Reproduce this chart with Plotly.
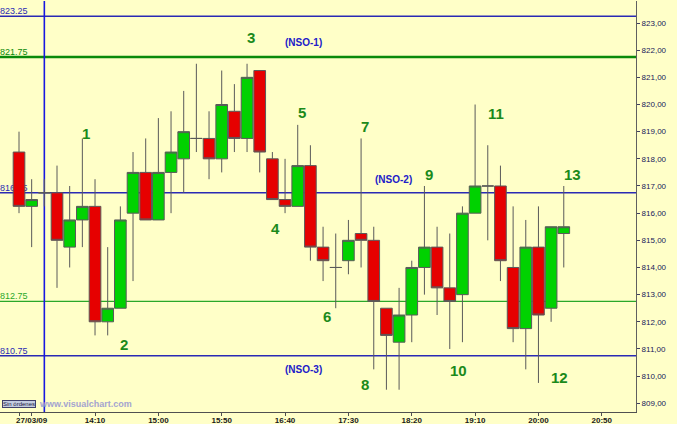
import plotly.graph_objects as go

DAY = "2009-03-27"
times = ["13:10", "13:20", "13:30", "13:40", "13:50", "14:00", "14:10", "14:20", "14:30", "14:40",
         "14:50", "15:00", "15:10", "15:20", "15:30", "15:40", "15:50", "16:00", "16:10", "16:20",
         "16:30", "16:40", "16:50", "17:00", "17:10", "17:20", "17:30", "17:40", "17:50", "18:00",
         "18:10", "18:20", "18:30", "18:40", "18:50", "19:00", "19:10", "19:20", "19:30", "19:40",
         "19:50", "20:00", "20:10", "20:20"]
opens = [818.25, 816.25, 816.75, 816.75, 814.75, 815.75, 816.25, 812.00, 812.50, 816.00,
         817.50, 815.75, 817.50, 818.00, 818.75, 818.75, 818.00, 819.75, 818.75, 821.25,
         818.00, 816.50, 816.25, 817.75, 814.75, 814.00, 814.25, 815.25, 815.00, 812.50,
         811.25, 812.25, 814.00, 814.75, 813.25, 813.00, 816.00, 817.00, 817.00, 814.00,
         811.75, 814.75, 812.50, 815.25]
highs = [819.00, 817.25, 817.25, 817.75, 817.00, 818.75, 817.25, 814.75, 816.25, 818.25,
         818.75, 819.50, 819.75, 820.50, 821.50, 819.75, 821.25, 820.75, 821.50, 821.25,
         818.25, 818.00, 819.25, 818.50, 815.50, 815.25, 815.75, 818.75, 815.50, 812.50,
         813.25, 814.25, 817.00, 815.50, 815.25, 816.25, 820.00, 818.50, 817.75, 816.25,
         815.75, 816.25, 815.50, 817.00]
lows = [816.00, 814.75, 816.25, 813.25, 814.00, 814.75, 811.50, 811.50, 812.50, 813.50,
        815.75, 815.75, 816.00, 816.75, 818.25, 817.25, 817.50, 818.25, 818.25, 817.50,
        816.50, 816.00, 816.25, 814.25, 813.50, 812.50, 813.75, 814.00, 810.25, 809.50,
        809.50, 811.25, 813.00, 812.25, 811.00, 811.25, 816.00, 815.00, 813.50, 811.25,
        810.25, 809.75, 812.00, 814.00]
closes = [816.25, 816.50, 816.75, 815.00, 815.75, 816.25, 812.00, 812.50, 815.75, 817.50,
          815.75, 817.50, 818.25, 819.00, 818.75, 818.00, 820.00, 818.75, 821.00, 818.25,
          816.50, 816.25, 817.75, 814.75, 814.25, 814.00, 815.00, 815.00, 812.75, 811.50,
          812.25, 814.00, 814.75, 813.25, 812.75, 816.00, 817.00, 817.00, 814.25, 811.75,
          814.75, 812.25, 815.50, 815.50]

# reference levels
levels = [823.25, 821.75, 816.75, 812.75, 810.75]
level_labels = ["823.25", "821.75", "816.75", "812.75", "810.75"]
level_colors = ["#2a2ab4", "#0a8a0a", "#2a2ab4", "#2aa82a", "#2a2ab4"]
level_widths = [1.4, 2.6, 1.4, 1.3, 1.6]
vline_time = "13:30"

wave_labels = ["1", "2", "3", "4", "5", "6", "7", "8", "9", "10", "11", "12", "13"]
wave_times = ["14:02:36", "14:33:06", "16:12:54", "16:32:48", "16:53:06", "17:12:54", "17:43:06",
              "17:43:18", "18:33:24", "18:56:30", "19:26:42", "20:16:48", "20:27:00"]
wave_prices = [818.94, 811.18, 822.45, 815.44, 819.69, 812.19, 819.20, 809.71, 817.44, 810.20,
               819.67, 809.96, 817.44]

nso_labels = ["(NSO-1)", "(NSO-2)", "(NSO-3)"]
nso_times = ["16:54:54", "18:05:12", "16:54:54"]
nso_prices = [822.27, 817.25, 810.26]

tick_times = ["13:10", "13:20", "14:10", "15:00", "15:50", "16:40", "17:30", "18:20", "19:10", "20:00", "20:50"]
tick_text = ["", "27/03/09", "14:10", "15:00", "15:50", "16:40", "17:30", "18:20", "19:10", "20:00", "20:50"]
y_ticks = list(range(809, 824))

BG = "#FFFFC8"
FONT = "Arial, Liberation Sans, sans-serif"

def ts(t):
    return f"{DAY} {t}"

fig = go.Figure()
fig.add_trace(go.Candlestick(
    x=[ts(t) for t in times], open=opens, high=highs, low=lows, close=closes,
    increasing=dict(fillcolor="#00d200", line=dict(color="#5a5a5a", width=1)),
    decreasing=dict(fillcolor="#e60000", line=dict(color="#5a5a5a", width=1)),
    whiskerwidth=0, showlegend=False, hoverinfo="skip",
))

shapes = []
for v, lab, c, w in zip(levels, level_labels, level_colors, level_widths):
    shapes.append(dict(
        type="line", xref="paper", x0=0, x1=1, yref="y", y0=v, y1=v,
        line=dict(color=c, width=w), layer="below",
        label=dict(text=lab, textposition="start", xanchor="left", yanchor="bottom",
                   padding=1, font=dict(family=FONT, size=9, color=c)),
    ))
shapes.append(dict(type="line", xref="x", x0=ts(vline_time), x1=ts(vline_time),
                   yref="paper", y0=0, y1=1, line=dict(color="#1818e0", width=1.6), layer="below"))

annotations = []
for lab, t, p in zip(wave_labels, wave_times, wave_prices):
    annotations.append(dict(x=ts(t), y=p, xref="x", yref="y", text=f"<b>{lab}</b>", showarrow=False,
                            font=dict(family=FONT, size=15, color="#1b8a1b")))
for lab, t, p in zip(nso_labels, nso_times, nso_prices):
    annotations.append(dict(x=ts(t), y=p, xref="x", yref="y", text=f"<b>{lab}</b>", showarrow=False,
                            font=dict(family=FONT, size=10, color="#2020c8")))
annotations.append(dict(x=37 / 636, y=0.02, xref="paper", yref="paper", xanchor="left", yanchor="middle",
                        text="<b>www.visualchart.com</b>", showarrow=False,
                        font=dict(family=FONT, size=9, color="#a4a4d0")))
annotations.append(dict(x=2 / 636, y=0.02, xref="paper", yref="paper", xanchor="left", yanchor="middle",
                        text="Sin órdenes", showarrow=False, bgcolor="#c4cce0", bordercolor="#40406a",
                        borderwidth=1, borderpad=0, font=dict(family=FONT, size=6, color="#202040")))

fig.update_layout(
    width=677, height=424,
    margin=dict(l=0, r=41, t=1, b=12),
    paper_bgcolor=BG, plot_bgcolor=BG,
    separators=",.",
    boxgap=0.08, boxgroupgap=0,
    shapes=shapes, annotations=annotations,
    showlegend=False,
    xaxis=dict(type="date", range=[ts("12:55"), ts("21:17")], rangeslider=dict(visible=False),
               tickvals=[ts(t) for t in tick_times], ticktext=tick_text,
               showgrid=False, zeroline=False, showline=True, linecolor="#505050", linewidth=1,
               ticks="outside", ticklen=3, tickcolor="#505050", ticklabelstandoff=-3,
               tickfont=dict(family=FONT, size=8, color="#1a1a1a", weight="bold")),
    yaxis=dict(side="right", range=[808.68, 823.81], tickvals=y_ticks, tickformat=".2f",
               showgrid=False, zeroline=False, showline=True, linecolor="#606060", linewidth=1,
               ticks="outside", ticklen=3, tickcolor="#404060",
               tickfont=dict(family=FONT, size=8, color="#20205a")),
)

fig.write_html("out.html", config={"displayModeBar": False},
               post_script="document.body.style.margin='0px';")
